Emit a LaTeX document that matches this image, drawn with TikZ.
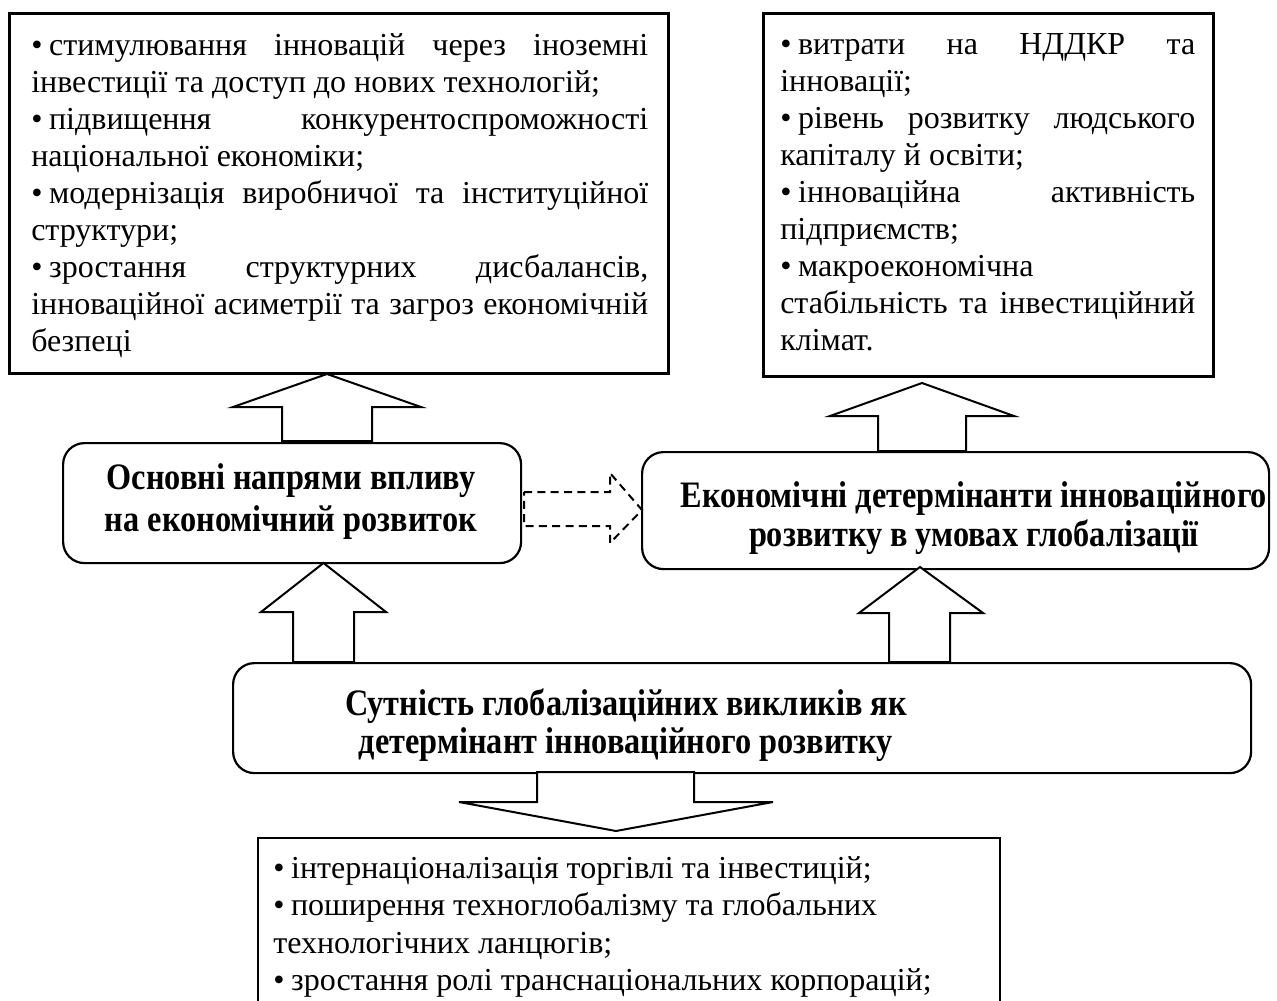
\documentclass[tikz,border=0pt]{standalone}
\usepackage{fontspec}
\setmainfont{Liberation Serif}
\newfontfamily\boldcond{Liberation Serif}[FakeStretch=0.865]
\newcommand\jl[2]{\hbox to #1{\spaceskip=0pt plus 1fil\relax #2}}
\newcommand\bul{•\kern 5pt}
\tikzset{
 listbox/.style={draw, line width=2pt, fill=white, inner sep=0pt, anchor=north west},
 roundbox/.style={draw, line width=1.65pt, rounded corners=16pt, fill=white, inner sep=0pt, anchor=north west},
 blockarrow/.style={draw, line width=1.5pt, fill=white, line join=miter},
 dasharrow/.style={draw, line width=1.5pt, dash pattern=on 6pt off 4pt},
 listtext/.style={anchor=base west, inner sep=0pt, font=\fontsize{24pt}{28pt}\selectfont},
 boldtext/.style={anchor=base, inner sep=0pt, font=\boldcond\bfseries\fontsize{28pt}{32pt}\selectfont},
}
\begin{document}
\begin{tikzpicture}[x=0.75pt,y=-0.75pt]
\useasboundingbox (0,0) rectangle (1277,1000);
\fill[white] (0,0) rectangle (1277,1000);

% boxes
\node[listbox, minimum width=494.25pt, minimum height=270pt] (tl) at (8,12) {};
\node[listbox, minimum width=337.5pt, minimum height=272.25pt] (tr) at (762,12) {};
\node[roundbox, minimum width=343.5pt, minimum height=90pt] (osn) at (62,442) {};
\node[roundbox, minimum width=470.25pt, minimum height=87.75pt] (eko) at (641,451) {};
\node[roundbox, minimum width=763.5pt, minimum height=82.5pt] (sut) at (232,662) {};
\draw[line width=2pt] (258,1003) coordinate (bl) -- (258,838) -- (1000,838) -- (1000,1003) coordinate (br);

% block arrows
\draw[blockarrow] (327,374) -- (421,407) -- (372,407) -- (372,441) -- (282,441) -- (282,407) -- (233,407) -- cycle;
\draw[blockarrow] (922,383) -- (1014,416) -- (966,416) -- (966,451) -- (878,451) -- (878,416) -- (830,416) -- cycle;
\draw[blockarrow] (323.5,563) -- (386,612) -- (354,612) -- (354,662) -- (293,662) -- (293,612) -- (261,612) -- cycle;
\draw[blockarrow] (920,567) -- (983,613) -- (950,613) -- (950,662) -- (889,662) -- (889,613) -- (859,613) -- cycle;
\draw[blockarrow] (537,772) -- (694,772) -- (694,802) -- (773,802) -- (616,831) -- (459,802) -- (537,802) -- cycle;
\draw[dasharrow] (524,492) -- (610,492) -- (610,473) -- (642,510) -- (610,543) -- (610,526) -- (524,526) -- cycle;

% top-left text
\node[listtext] (tl1) at (31,55) {\jl{462.75pt}{\bul стимулювання інновацій через іноземні}};
\node[listtext] (tl2) at (31,92) {інвестиції та доступ до нових технологій;};
\node[listtext] (tl3) at (31,129) {\jl{462.75pt}{\bul підвищення конкурентоспроможності}};
\node[listtext] (tl4) at (31,166) {національної економіки;};
\node[listtext] (tl5) at (31,203) {\jl{462.75pt}{\bul модернізація виробничої та інституційної}};
\node[listtext] (tl6) at (31,240) {структури;};
\node[listtext] (tl7) at (31,277) {\jl{462.75pt}{\bul зростання структурних дисбалансів,}};
\node[listtext] (tl8) at (31,314) {\jl{462.75pt}{інноваційної асиметрії та загроз економічній}};
\node[listtext] (tl9) at (31,351) {безпеці};

% top-right text
\node[listtext] (tr1) at (780,54) {\jl{311.25pt}{\bul витрати на НДДКР та}};
\node[listtext] (tr2) at (780,91) {інновації;};
\node[listtext] (tr3) at (780,128) {\jl{311.25pt}{\bul рівень розвитку людського}};
\node[listtext] (tr4) at (780,165) {капіталу й освіти;};
\node[listtext] (tr5) at (780,202) {\jl{311.25pt}{\bul інноваційна активність}};
\node[listtext] (tr6) at (780,239) {підприємств;};
\node[listtext] (tr7) at (780,276) {\bul макроекономічна};
\node[listtext] (tr8) at (780,313) {\jl{311.25pt}{стабільність та інвестиційний}};
\node[listtext] (tr9) at (780,350) {клімат.};

% bottom text
\node[listtext] (b1) at (273,878) {\bul інтернаціоналізація торгівлі та інвестицій;};
\node[listtext] (b2) at (273,915) {\bul поширення техноглобалізму та глобальних};
\node[listtext] (b3) at (273,953) {технологічних ланцюгів;};
\node[listtext] (b4) at (273,990) {\bul зростання ролі транснаціональних корпорацій;};

% bold titles
\node[boldtext] (osn1) at (291,489) {Основні напрями впливу};
\node[boldtext] (osn2) at (291,531) {на економічний розвиток};
\begin{scope}
\clip (641,451) rectangle (1265,568);
\node[boldtext] (eko1) at (974,507) {Економічні детермінанти інноваційного};
\node[boldtext] (eko2) at (974,546) {розвитку в умовах глобалізації};
\end{scope}
\node[boldtext] (sut1) at (626,715) {Сутність глобалізаційних викликів як};
\node[boldtext] (sut2) at (626,753) {детермінант інноваційного розвитку};
\end{tikzpicture}
\end{document}
